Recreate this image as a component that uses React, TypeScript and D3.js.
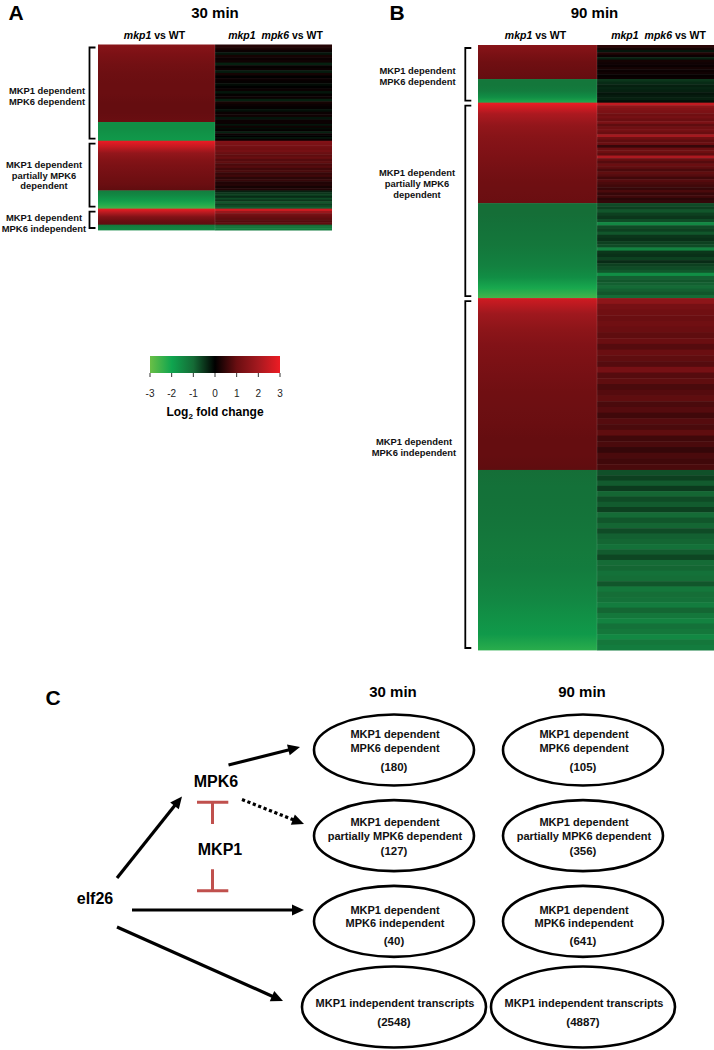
import React from "react";
import * as d3 from "d3";

const FONT = "'Liberation Sans', Arial, Helvetica, sans-serif";

// ---------- DATA ----------
const columnKeys = ["mkp1 vs WT", "mkp1 mpk6 vs WT"];
const columnGenotypes = [["mkp1"], ["mkp1", "mpk6"]];
const clusterLabels = [
  ["MKP1 dependent", "MPK6 dependent"],
  ["MKP1 dependent", "partially MPK6", "dependent"],
  ["MKP1 dependent", "MPK6 independent"],
];

// Panel A (30 min): genes per cluster and number up-regulated in mkp1
const countsA = [180, 127, 40];
const upA = [145, 93, 30];
// Panel B (90 min)
const countsB = [105, 356, 641];
const upB = [62, 183, 313];

// log2 fold change profiles, top to bottom, mkp1 vs WT column
const aCol1Up = [
  [1.5, 1.3, 1.15, 1.05, 1.0, 1.0, 0.95, 0.95, 1.0],
  [3.0, 2.4, 1.7, 1.45, 1.3, 1.2, 1.1, 1.0, 0.9],
  [3.0, 2.2, 1.4, 1.0, 0.9],
];
const aCol1Down = [
  [-1.6, -1.6, -1.7, -1.8],
  [-1.3, -1.5, -1.8, -2.2, -2.6],
  [-1.2, -1.4, -1.5],
];
// mkp1 mpk6 vs WT column stripes
const aCol2Up = [
  [0.35, 0.25, 0.1, -0.2, 0.2, 0.1, 0.15, -0.3, 0.05, 0.1, -0.25, 0.2, 0.0, 0.1, 0.05, -0.1, 0.0, 0.1, -0.2, 0.05, 0.1, -0.3, 0.2, 0.1, 0.05, -0.15, 0.1, 0.15, -0.2, 0.1],
  [1.4, 1.3, 1.2, 1.1, 1.2, 1.0, 0.9, 1.0, 0.8, 0.9, 0.7, 0.8, 0.6, 0.7, 0.5, 0.6, 0.4, 0.5, 0.3, 0.35, 0.2, 0.3],
  [2.6, 1.8, 1.2, 1.0, 0.9, 0.8, 0.9],
];
const aCol2Down = [
  [0.1, -0.2, 0.15, -0.1, 0.05, -0.3, 0.1, 0.0, -0.2, 0.1],
  [-0.3, -0.5, -0.6, -0.4, -0.7, -0.5, -0.8, -0.6, -0.7, -0.9],
  [-1.0, -1.2, -1.3],
];

const bCol1Up = [
  [1.5, 1.3, 1.1, 1.0, 0.95],
  [3.0, 2.1, 1.7, 1.5, 1.4, 1.3, 1.2, 1.1, 1.05, 1.0],
  [2.6, 1.9, 1.6, 1.4, 1.3, 1.2, 1.1, 1.05, 1.0, 0.95, 0.95, 0.9],
];
const bCol1Down = [
  [-1.2, -1.2, -1.3, -1.6, -2.2],
  [-1.05, -1.05, -1.1, -1.15, -1.2, -1.3, -1.4, -1.6, -2.1, -2.6],
  [-1.05, -1.1, -1.12, -1.15, -1.2, -1.25, -1.3, -1.4, -1.5, -1.65, -1.8, -2.3],
];
const bCol2Up = [
  [0.4, 0.2, -0.2, 0.3, 0.1, -0.3, 0.2, 0.15, 0.1, 0.2, 0.1, 0.15, 0.05, 0.1],
  [2.4, 1.6, 1.4, 1.3, 1.1, 1.2, 1.0, 1.3, 0.9, 1.1, 1.2, 1.0, 2.0, 1.1, 0.9, 1.0, 0.5, 1.0, 1.1, 0.9, 2.1, 1.0, 0.8, 1.0, 0.9, 0.7, 0.9, 0.8, 0.6, 0.8, 0.7, 0.6, 0.5, 0.7, 0.5, 0.6, 0.4, 0.5],
  [1.6, 1.2, 1.1, 1.0, 1.1, 1.0, 0.9, 1.0, 0.8, 1.0, 0.9, 0.8, 1.2, 0.8, 0.9, 0.7, 0.8, 0.9, 0.7, 0.8, 0.6, 0.8, 0.7, 0.9, 0.6, 0.7, 0.5, 0.7, 0.6, 0.7],
];
const bCol2Down = [
  [-0.5, -0.4, -0.3, -0.35, -0.3, -0.2, -0.25, -0.3, -0.15],
  [-0.7, -0.6, -0.8, -0.6, -0.5, -0.7, -1.5, -0.7, -0.6, -0.8, -0.5, -0.45, -0.6, -0.7, -1.4, -0.5, -0.45, -0.6, -0.4, -0.6, -0.7, -0.8, -1.6, -0.9, -0.8, -0.9, -1.0, -0.9, -0.8, -1.0],
  [-0.75, -0.6, -0.85, -0.55, -0.95, -0.7, -0.85, -0.6, -1.0, -0.8, -0.95, -0.7, -0.9, -0.95, -1.1, -0.85, -0.65, -1.0, -0.95, -1.1, -1.05, -0.8, -1.2, -1.05, -1.1, -1.3, -0.95, -1.2, -1.4, -1.1, -1.2, -1.5, -1.2, -1.3],
];

// colour scale
const colorDomain = [-3, -2, -1, 0, 1, 2, 3];
const colorRange = ["#6abf46", "#0fa54f", "#156b36", "#000000", "#6a0e11", "#a5191f", "#ed1c24"];
const legendTicks = [-3, -2, -1, 0, 1, 2, 3];

// Panel C
const timepoints = ["30 min", "90 min"];
const categoryLines = [
  ["MKP1 dependent", "MPK6 dependent"],
  ["MKP1 dependent", "partially MPK6 dependent"],
  ["MKP1 dependent", "MPK6 independent"],
  ["MKP1 independent transcripts"],
];
const counts30 = [180, 127, 40, 2548];
const counts90 = [105, 356, 641, 4887];

// ---------- HELPERS ----------
const color = d3.scaleLinear<string>().domain(colorDomain).range(colorRange).interpolate(d3.interpolateRgb).clamp(true);

function Heatmap(props: {
  id: string; x0: number; x1: number; top: number; bottom: number;
  counts: number[]; ups: number[]; c1Up: number[][]; c1Down: number[][]; c2Up: number[][]; c2Down: number[][];
  bracketX: number; labelX: number[]; labelY: number[]; title: string; titleX: number; letter: string; letterX: number;
}) {
  const { id, x0, x1, top, bottom, counts, ups, c1Up, c1Down, c2Up, c2Down } = props;
  const total = d3.sum(counts);
  const y = d3.scaleLinear().domain([0, total]).range([top, bottom]);
  const x = d3.scaleBand<string>().domain(columnKeys).range([x0, x1]);
  const starts = counts.map((_, i) => d3.sum(counts.slice(0, i)));
  const blocks: { key: string; s: number; e: number; c1: number[]; c2: number[] }[] = [];
  counts.forEach((n, i) => {
    blocks.push({ key: `${i}u`, s: starts[i], e: starts[i] + ups[i], c1: c1Up[i], c2: c2Up[i] });
    blocks.push({ key: `${i}d`, s: starts[i] + ups[i], e: starts[i] + n, c1: c1Down[i], c2: c2Down[i] });
  });
  const bw = x.bandwidth();
  const lineH = 10.7;
  return (
    <g>
      <defs>
        {blocks.map((b) => (
          <linearGradient key={b.key} id={`${id}-g${b.key}`} x1="0" y1="0" x2="0" y2="1">
            {b.c1.map((v, j) => (
              <stop key={j} offset={b.c1.length > 1 ? j / (b.c1.length - 1) : 0} stopColor={color(v)} />
            ))}
          </linearGradient>
        ))}
      </defs>
      <text x={props.letterX} y={12} fontSize={21} fontWeight="bold" textAnchor="middle" dominantBaseline="central">{props.letter}</text>
      <text x={props.titleX} y={12.5} fontSize={15} fontWeight="bold" textAnchor="middle" dominantBaseline="central">{props.title}</text>
      {columnKeys.map((k, ci) => (
        <text key={k} x={(x(k) as number) + bw / 2 + (ci === 0 ? -2 : 2)} y={35} fontSize={10.5} fontWeight="bold" textAnchor="middle" dominantBaseline="central">
          {columnGenotypes[ci].map((g, gi) => (
            <tspan key={gi} fontStyle="italic" dx={gi > 0 ? 6 : 0}>{g}</tspan>
          ))}
          <tspan> vs WT</tspan>
        </text>
      ))}
      {blocks.map((b) => (
        <rect key={"c1" + b.key} x={x(columnKeys[0])} width={bw} y={y(b.s)} height={y(b.e) - y(b.s) + 0.4} fill={`url(#${id}-g${b.key})`} />
      ))}
      {blocks.map((b) =>
        b.c2.map((v, j) => {
          const n = b.c2.length;
          const ys = y(b.s + ((b.e - b.s) * j) / n);
          const ye = y(b.s + ((b.e - b.s) * (j + 1)) / n);
          return <rect key={"c2" + b.key + j} x={x(columnKeys[1])} width={bw} y={ys} height={ye - ys + 0.5} fill={color(v)} />;
        })
      )}
      <line x1={x(columnKeys[1])} x2={x(columnKeys[1])} y1={top} y2={bottom} stroke="#fff" strokeOpacity={0.12} strokeWidth={1} />
      {counts.map((n, i) => {
        const ya = y(starts[i]) + 3;
        const yb = y(starts[i] + n) - 2;
        const bx = props.bracketX;
        return <path key={"br" + i} d={`M${bx + 6},${ya} H${bx} V${yb} H${bx + 6}`} fill="none" stroke="#000" strokeWidth={1.8} />;
      })}
      {clusterLabels.map((lines, i) => {
        const cy = props.labelY[i];
        return (
          <text key={"lb" + i} x={props.labelX[i]} fontSize={9.4} fontWeight="bold" textAnchor="middle" fill="#111">
            {lines.map((l, j) => (
              <tspan key={j} x={props.labelX[i]} y={cy + (j - (lines.length - 1) / 2) * lineH} dominantBaseline="central">{l}</tspan>
            ))}
          </text>
        );
      })}
    </g>
  );
}

function Legend() {
  const x = d3.scaleLinear().domain([-3, 3]).range([150, 280]);
  const top = 356, h = 17;
  return (
    <g>
      <defs>
        <linearGradient id="legend-grad" x1="0" y1="0" x2="1" y2="0">
          {colorDomain.map((v, i) => (
            <stop key={i} offset={(v + 3) / 6} stopColor={color(v)} />
          ))}
        </linearGradient>
      </defs>
      <rect x={x(-3)} y={top} width={x(3) - x(-3)} height={h} fill="url(#legend-grad)" />
      {legendTicks.map((t) => (
        <g key={t}>
          <line x1={x(t)} x2={x(t)} y1={top + h} y2={top + h + 4} stroke="#333" strokeWidth={1} />
          <text x={x(t)} y={393} fontSize={10} textAnchor="middle" dominantBaseline="central" fill="#222">{t}</text>
        </g>
      ))}
      <text x={215} y={412} fontSize={12} fontWeight="bold" textAnchor="middle" dominantBaseline="central">
        Log<tspan fontSize={8} dy={4}>2</tspan><tspan dy={-4}> fold change</tspan>
      </text>
    </g>
  );
}

function Arrow({ x1, y1, x2, y2, dashed }: { x1: number; y1: number; x2: number; y2: number; dashed?: boolean }) {
  const dx = x2 - x1, dy = y2 - y1;
  const len = Math.hypot(dx, dy);
  const ux = dx / len, uy = dy / len;
  const hl = 12, hw = 5.5;
  const bx = x2 - ux * hl, by = y2 - uy * hl;
  const px = -uy, py = ux;
  return (
    <g>
      <line x1={x1} y1={y1} x2={bx + ux * 2} y2={by + uy * 2} stroke="#000" strokeWidth={3.2} strokeDasharray={dashed ? "3.2,2.6" : undefined} />
      <polygon points={`${x2},${y2} ${bx + px * hw},${by + py * hw} ${bx - px * hw},${by - py * hw}`} fill="#000" />
    </g>
  );
}

function PanelC() {
  const xT = d3.scalePoint<string>().domain(timepoints).range([394, 583]);
  const yC = d3.scalePoint<string>().domain(categoryLines.map((l) => l.join(" "))).range([750, 1007]);
  const rows = categoryLines.map((lines, i) => ({ lines, cy: yC(lines.join(" ")) as number, i }));
  const rx = [80, 80, 80, 92];
  const ry = [35.5, 35.5, 35.5, 40.5];
  const lineOff = [[-15.7, -2.3, 17.3], [-13.5, 0, 15.5], [-11, 2, 20], [-4.2, 15.2]];
  const all = [counts30, counts90];
  const red = "#c0504d";
  const [r1, , , r4] = rows.map((r) => r.cy);
  const xl = xT("30 min") as number;
  return (
    <g>
      <text x={53} y={697} fontSize={21} fontWeight="bold" textAnchor="middle" dominantBaseline="central">C</text>
      {timepoints.map((t) => (
        <text key={t} x={(xT(t) as number) - 1} y={691} fontSize={15} fontWeight="bold" textAnchor="middle" dominantBaseline="central">{t}</text>
      ))}
      {timepoints.map((t, ti) =>
        rows.map((r) => {
          const cx = xT(t) as number;
          const offs = lineOff[r.i];
          return (
            <g key={t + r.i}>
              <ellipse cx={cx} cy={r.cy} rx={rx[r.i]} ry={ry[r.i]} fill="none" stroke="#000" strokeWidth={2.6} />
              {r.lines.map((l, j) => (
                <text key={j} x={cx + 1} y={r.cy + offs[j]} fontSize={11} fontWeight="bold" textAnchor="middle" dominantBaseline="central" fill="#111">{l}</text>
              ))}
              <text x={cx} y={r.cy + offs[offs.length - 1]} fontSize={11.5} fontWeight="bold" textAnchor="middle" dominantBaseline="central" fill="#111">({all[ti][r.i]})</text>
            </g>
          );
        })
      )}
      <text x={216} y={781} fontSize={16} fontWeight="bold" textAnchor="middle" dominantBaseline="central">MPK6</text>
      <text x={220} y={849} fontSize={16} fontWeight="bold" textAnchor="middle" dominantBaseline="central">MKP1</text>
      <text x={95} y={898} fontSize={16} fontWeight="bold" textAnchor="middle" dominantBaseline="central">elf26</text>
      <Arrow x1={117} y1={878} x2={182} y2={796.5} />
      <Arrow x1={228.5} y1={765} x2={300} y2={r1 - 3} />
      <Arrow x1={242} y1={799.5} x2={304} y2={824} dashed />
      <Arrow x1={132} y1={910} x2={xl - 90} y2={910} />
      <Arrow x1={117} y1={927} x2={283} y2={r4 - 6} />
      <path d="M197,802.3 H228.3 M212.5,802.3 V824" stroke={red} strokeWidth={3} fill="none" />
      <path d="M212.5,869.3 V890.7 M197,890.7 H228.3" stroke={red} strokeWidth={3} fill="none" />
    </g>
  );
}

export default function App() {
  return (
    <svg width={714} height={1050} viewBox="0 0 714 1050" style={{ position: "absolute", left: 0, top: 0, background: "#fff", fontFamily: FONT }}>
      <rect x={0} y={0} width={714} height={1050} fill="#fff" />
      <Heatmap id="A" x0={98} x1={332} top={44.5} bottom={230} counts={countsA} ups={upA}
        c1Up={aCol1Up} c1Down={aCol1Down} c2Up={aCol2Up} c2Down={aCol2Down}
        bracketX={89.5} labelX={[47, 44, 44]} labelY={[96.3, 175, 223.3]}
        title="30 min" titleX={215} letter="A" letterX={16} />
      <Heatmap id="B" x0={478} x1={716} top={45} bottom={650} counts={countsB} ups={upB}
        c1Up={bCol1Up} c1Down={bCol1Down} c2Up={bCol2Up} c2Down={bCol2Down}
        bracketX={465.3} labelX={[417.5, 417, 414]} labelY={[75.8, 183.5, 447.2]}
        title="90 min" titleX={594.5} letter="B" letterX={397} />
      <Legend />
      <PanelC />
    </svg>
  );
}
